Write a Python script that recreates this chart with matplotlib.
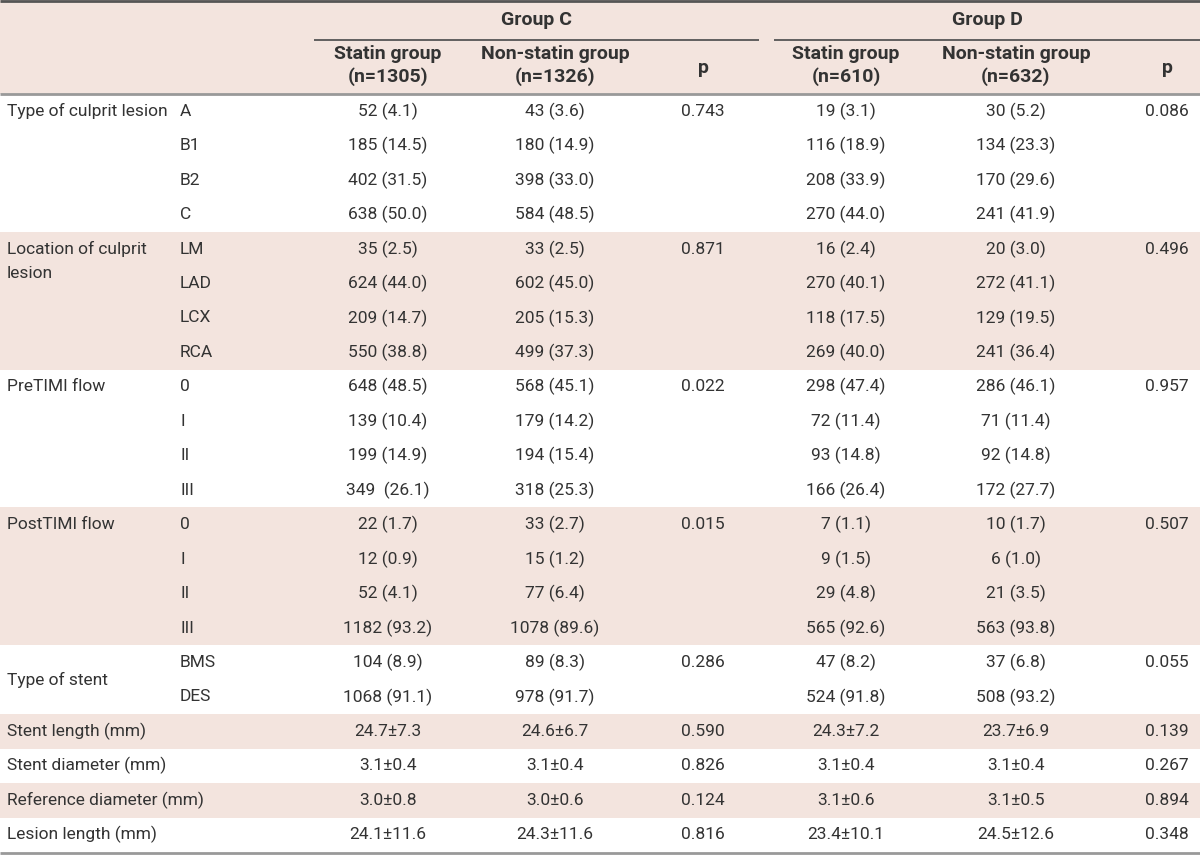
import matplotlib
matplotlib.use("Agg")
import matplotlib.pyplot as plt
from matplotlib.patches import Rectangle

plt.rcParams['font.family'] = ['Roboto', 'DejaVu Sans']

# table content
section_names = ["Type of culprit lesion", "Location of culprit\nlesion", "PreTIMI flow",
                 "PostTIMI flow", "Type of stent", "Stent length (mm)", "Stent diameter (mm)",
                 "Reference diameter (mm)", "Lesion length (mm)"]
section_rows = [4, 4, 4, 4, 2, 1, 1, 1, 1]
sub_labels = ["A", "B1", "B2", "C", "LM", "LAD", "LCX", "RCA", "0", "I", "II", "III",
              "0", "I", "II", "III", "BMS", "DES", "", "", "", ""]

c_statin = ["52 (4.1)", "185 (14.5)", "402 (31.5)", "638 (50.0)",
            "35 (2.5)", "624 (44.0)", "209 (14.7)", "550 (38.8)",
            "648 (48.5)", "139 (10.4)", "199 (14.9)", "349  (26.1)",
            "22 (1.7)", "12 (0.9)", "52 (4.1)", "1182 (93.2)",
            "104 (8.9)", "1068 (91.1)",
            "24.7±7.3", "3.1±0.4", "3.0±0.8", "24.1±11.6"]
c_non = ["43 (3.6)", "180 (14.9)", "398 (33.0)", "584 (48.5)",
         "33 (2.5)", "602 (45.0)", "205 (15.3)", "499 (37.3)",
         "568 (45.1)", "179 (14.2)", "194 (15.4)", "318 (25.3)",
         "33 (2.7)", "15 (1.2)", "77 (6.4)", "1078 (89.6)",
         "89 (8.3)", "978 (91.7)",
         "24.6±6.7", "3.1±0.4", "3.0±0.6", "24.3±11.6"]
c_p = ["0.743", "0.871", "0.022", "0.015", "0.286", "0.590", "0.826", "0.124", "0.816"]

d_statin = ["19 (3.1)", "116 (18.9)", "208 (33.9)", "270 (44.0)",
            "16 (2.4)", "270 (40.1)", "118 (17.5)", "269 (40.0)",
            "298 (47.4)", "72 (11.4)", "93 (14.8)", "166 (26.4)",
            "7 (1.1)", "9 (1.5)", "29 (4.8)", "565 (92.6)",
            "47 (8.2)", "524 (91.8)",
            "24.3±7.2", "3.1±0.4", "3.1±0.6", "23.4±10.1"]
d_non = ["30 (5.2)", "134 (23.3)", "170 (29.6)", "241 (41.9)",
         "20 (3.0)", "272 (41.1)", "129 (19.5)", "241 (36.4)",
         "286 (46.1)", "71 (11.4)", "92 (14.8)", "172 (27.7)",
         "10 (1.7)", "6 (1.0)", "21 (3.5)", "563 (93.8)",
         "37 (6.8)", "508 (93.2)",
         "23.7±6.9", "3.1±0.4", "3.1±0.5", "24.5±12.6"]
d_p = ["0.086", "0.496", "0.957", "0.507", "0.055", "0.139", "0.267", "0.894", "0.348"]

groups = ["Group C", "Group D"]
col_heads = ["Statin group\n(n=1305)", "Non-statin group\n(n=1326)", "p",
             "Statin group\n(n=610)", "Non-statin group\n(n=632)", "p"]

pink = "#f3e4de"
txt = "#333333"
W, H = 1200, 856

fig = plt.figure(figsize=(12, 8.56), dpi=100)
ax = fig.add_axes([0, 0, 1, 1])
ax.set_xlim(0, W)
ax.set_ylim(H, 0)
ax.axis("off")

col_x = [388, 555, 703, 846, 1016, 1167]
head_top, head_bot = 0, 94
row_h = (852 - head_bot) / sum(section_rows)
fs = 12.5
fs_h = 14

# header band
ax.add_patch(Rectangle((0, head_top), W, head_bot - head_top, color=pink, lw=0))
ax.plot([0, W], [1, 1], color="#555555", lw=2, solid_capstyle="butt")
for g, (x0, x1) in zip(groups, [(314, 759), (774, W)]):
    ax.text((x0 + x1) / 2, 20, g, ha="center", va="center", fontsize=fs_h,
            fontweight="bold", color=txt)
    ax.plot([x0, x1], [40, 40], color="#555555", lw=1.3, solid_capstyle="butt")
for x, h in zip(col_x, col_heads):
    if h == "p":
        ax.text(x, 68, h, ha="center", va="center", fontsize=fs_h, fontweight="bold", color=txt)
    else:
        l1, l2 = h.split("\n")
        ax.text(x, 54, l1, ha="center", va="center", fontsize=fs_h, fontweight="bold", color=txt)
        ax.text(x, 77, l2, ha="center", va="center", fontsize=fs_h, fontweight="bold", color=txt)

# body
r = 0
for s, (name, n) in enumerate(zip(section_names, section_rows)):
    y0 = head_bot + r * row_h
    if s % 2 == 1:
        ax.add_patch(Rectangle((0, y0), W, n * row_h, color=pink, lw=0))
    yc = y0 + row_h / 2
    if name == "Type of stent":
        ax.text(7, y0 + n * row_h / 2, name, ha="left", va="center", fontsize=fs, color=txt)
    else:
        for k, line in enumerate(name.split("\n")):
            ax.text(7, yc + k * 24, line, ha="left", va="center", fontsize=fs, color=txt)
    ax.text(col_x[2], yc, c_p[s], ha="center", va="center", fontsize=fs, color=txt)
    ax.text(col_x[5], yc, d_p[s], ha="center", va="center", fontsize=fs, color=txt)
    for i in range(r, r + n):
        y = head_bot + (i + 0.5) * row_h
        ax.text(180, y, sub_labels[i], ha="left", va="center", fontsize=fs, color=txt)
        ax.text(col_x[0], y, c_statin[i], ha="center", va="center", fontsize=fs, color=txt)
        ax.text(col_x[1], y, c_non[i], ha="center", va="center", fontsize=fs, color=txt)
        ax.text(col_x[3], y, d_statin[i], ha="center", va="center", fontsize=fs, color=txt)
        ax.text(col_x[4], y, d_non[i], ha="center", va="center", fontsize=fs, color=txt)
    r += n

ax.plot([0, W], [head_bot, head_bot], color="#999999", lw=2, solid_capstyle="butt")
ax.plot([0, W], [853, 853], color="#999999", lw=2, solid_capstyle="butt")

fig.savefig("out.png", dpi=100)
